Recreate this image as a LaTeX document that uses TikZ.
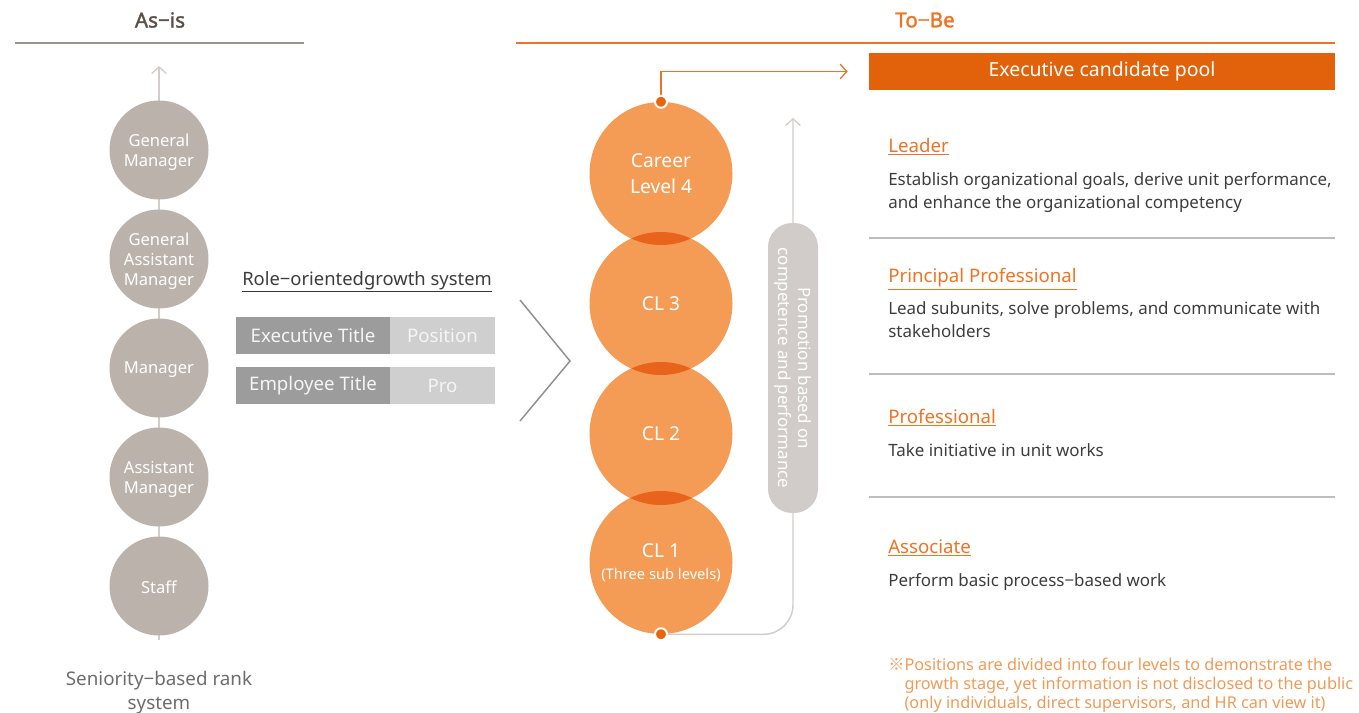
\documentclass[tikz,border=0pt]{standalone}
\usepackage{fontspec}
\setmainfont{Noto Sans}
\newfontfamily\titlefont[FakeBold=1.6]{Noto Sans}
\newfontfamily\cjkfont{Noto Sans CJK JP}
\usetikzlibrary{arrows.meta}
\definecolor{asgray}{HTML}{5B4F47}
\definecolor{asline}{HTML}{9C938D}
\definecolor{tobe}{HTML}{EC7424}
\definecolor{gcircfill}{HTML}{BAB2AB}
\definecolor{vline}{HTML}{D2CDCA}
\definecolor{ocfill}{HTML}{F49C55}
\definecolor{ovl}{HTML}{E8641C}
\definecolor{dotc}{HTML}{E8650E}
\definecolor{poolc}{HTML}{E2620B}
\definecolor{dboxc}{HTML}{9C9C9C}
\definecolor{lboxc}{HTML}{CFCFCF}
\definecolor{pillc}{HTML}{D1CCC9}
\definecolor{sepc}{HTML}{BDBDBD}
\definecolor{bodyc}{HTML}{3D3D3D}
\definecolor{footc}{HTML}{F09A57}
\definecolor{senc}{HTML}{6D6D6D}
\definecolor{chevc}{HTML}{8F8F8F}
\newcommand\fsz[2]{\fontsize{#1}{#2}\selectfont}
\begin{document}
\begin{tikzpicture}[x=0.75pt,y=-0.75pt,
  gcirc/.style={circle, fill=gcircfill, minimum size=74.25pt, inner sep=0pt, text=white, align=center, font=\fsz{12.4pt}{15pt}},
  gtext/.style={inner sep=0pt, text=white, align=center, font=\fsz{12.4pt}{15pt}},
  ocirc/.style={circle, fill=ocfill, minimum size=107.25pt, inner sep=0pt, text=white, align=center, font=\fsz{14.4pt}{19.5pt}},
  dotn/.style={circle, fill=dotc, draw=white, line width=1.5pt, minimum size=9pt, inner sep=0pt},
  dbox/.style={rectangle, fill=dboxc, minimum width=115.5pt, minimum height=27.75pt, inner sep=0pt, text=white!96!black, font=\fsz{14pt}{16pt}},
  lbox/.style={rectangle, fill=lboxc, minimum width=78.75pt, minimum height=27.75pt, inner sep=0pt, text=white!96!black, font=\fsz{14pt}{16pt}},
  pool/.style={rectangle, fill=poolc, minimum width=349.5pt, minimum height=27.75pt, inner sep=0pt, text=white, font=\fsz{14.6pt}{17pt}},
  pill/.style={rectangle, rounded corners=18pt, fill=pillc, minimum width=217.5pt, minimum height=37.5pt, inner sep=0pt, text=white, align=center, font=\fsz{12.7pt}{15.5pt}},
  head/.style={inner sep=0pt, text=tobe, font=\fsz{14pt}{17pt}},
  desc/.style={inner sep=0pt, text=bodyc, align=left, font=\fsz{12.7pt}{17.7pt}},
  foot/.style={inner sep=0pt, text=footc, align=left, font=\fsz{12.2pt}{14.2pt}},
  title/.style={inner sep=0pt, font=\titlefont\fsz{15.5pt}{18pt}},
  sepline/.style={draw=sepc, line width=0.9pt},
  barb/.style={-{Straight Barb[length=5pt,width=11pt,line width=1pt]}}
]
\useasboundingbox (0,0) rectangle (1359,713);

% ---- titles
\node[title, text=asgray] (asis) at (160,20) {As−is};
\draw[draw=asline, line width=2.2pt] (15,43) -- (304,43);
\node[title, text=tobe] (tobe) at (925,20) {To−Be};
\draw[draw=tobe, line width=1.6pt] (516,43) -- (1335,43);

% ---- As-is column
\coordinate (ltop) at (159,66);
\coordinate (lbot) at (159,640);
\draw[draw=vline, line width=1.1pt, barb] (lbot) -- (ltop);
\node[gcirc] (gm)  at (159,150) {};
\node[gcirc] (gam) at (159,259) {};
\node[gcirc] (mgr) at (159,368) {};
\node[gcirc] (am)  at (159,477) {};
\node[gcirc] (stf) at (159,586) {};
\node[gtext] (gmt)  at ([yshift=-1.5pt]gm.center)  {General\\Manager};
\node[gtext] (gamt) at ([yshift=-1.5pt]gam.center) {General\\Assistant\\Manager};
\node[gtext] (mgrt) at ([yshift=-1.5pt]mgr.center) {Manager};
\node[gtext] (amt)  at ([yshift=-1.5pt]am.center)  {Assistant\\Manager};
\node[gtext] (stft) at ([yshift=-1pt]stf.center)  {Staff};
\node[inner sep=0pt, text=senc, align=center, font=\fsz{14.1pt}{18pt}] (sen) at (159,693) {Seniority−based rank\\system};

% ---- middle
\node[inner sep=0pt, anchor=base west, text=bodyc, font=\fsz{13.8pt}{16pt}] (role) at (242,285) {Role−orientedgrowth system};
\draw[draw=bodyc!90!black, line width=0.8pt] ([yshift=-1.5pt]role.south west) -- ([yshift=-1.5pt]role.south east);
\node[dbox] (et) at (313,335.5) {Executive Title};
\node[lbox] (pos) at (442.5,335.5) {Position};
\node[dbox] (emp) at (313,385.5) {Employee Title};
\node[lbox] (pro) at (442.5,385.5) {Pro};
\coordinate (ch1) at (520,300);
\coordinate (ch2) at (570,361);
\coordinate (ch3) at (520,421);
\draw[draw=chevc, line width=1.1pt] (ch1) -- (ch2) -- (ch3);

% ---- career level circles
\node[ocirc] (cl4) at (661,173.5) {Career\\Level 4};
\node[ocirc] (cl3) at (661,303.5) {CL 3};
\node[ocirc] (cl2) at (661,433.5) {CL 2};
\node[ocirc] (cl1) at (661,562.5) {CL 1\\[-3pt]{\fsz{11pt}{13pt}(Three sub levels)}};
\begin{scope}
  \clip (cl4.center) circle[radius=53.625pt];
  \fill[ovl] (cl3.center) circle[radius=53.625pt];
\end{scope}
\begin{scope}
  \clip (cl3.center) circle[radius=53.625pt];
  \fill[ovl] (cl2.center) circle[radius=53.625pt];
\end{scope}
\begin{scope}
  \clip (cl2.center) circle[radius=53.625pt];
  \fill[ovl] (cl1.center) circle[radius=53.625pt];
\end{scope}

% ---- promotion path
\coordinate (ptop) at (793,118);
\draw[draw=vline, line width=1.1pt, rounded corners=22pt, barb] (cl1.south) -| (ptop);
\node[pill, rotate=-90] (prom) at (793,368) {Promotion based on\\competence and performance};
\node[dotn] (d1) at (cl1.south) {};

% ---- executive pool
\node[pool] (ecp) at (1102,71.5) {Executive candidate pool};
\draw[draw=tobe, line width=1.1pt, barb] (cl4.north) |- ([xshift=-15.75pt]ecp.west);
\node[dotn] (d4) at (cl4.north) {};

% ---- right column
\node[head, anchor=base west] (h1) at (888,152.5) {Leader};
\draw[draw=tobe, line width=0.8pt] ([yshift=-1.5pt]h1.south west) -- ([yshift=-1.5pt]h1.south east);
\node[desc, anchor=north west] (t1) at (888,172) {Establish organizational goals, derive unit performance,\\and enhance the organizational competency};
\draw[sepline] (869,238) -- (1335,238);

\node[head, anchor=base west] (h2) at (888,282.5) {Principal Professional};
\draw[draw=tobe, line width=0.8pt] ([yshift=-1.5pt]h2.south west) -- ([yshift=-1.5pt]h2.south east);
\node[desc, anchor=north west] (t2) at (888,301) {Lead subunits, solve problems, and communicate with\\stakeholders};
\draw[sepline] (869,374) -- (1335,374);

\node[head, anchor=base west] (h3) at (888,423.5) {Professional};
\draw[draw=tobe, line width=0.8pt] ([yshift=-1.5pt]h3.south west) -- ([yshift=-1.5pt]h3.south east);
\node[desc, anchor=north west] (t3) at (888,443) {Take initiative in unit works};
\draw[sepline] (869,497) -- (1335,497);

\node[head, anchor=base west] (h4) at (888,553.5) {Associate};
\draw[draw=tobe, line width=0.8pt] ([yshift=-1.5pt]h4.south west) -- ([yshift=-1.5pt]h4.south east);
\node[desc, anchor=north west] (t4) at (888,573) {Perform basic process−based work};

\node[foot, anchor=north west] (fn) at (888,658) {{\cjkfont ※}Positions are divided into four levels to demonstrate the\\\phantom{\cjkfont ※}growth stage, yet information is not disclosed to the public\\\phantom{\cjkfont ※}(only individuals, direct supervisors, and HR can view it)};
\end{tikzpicture}
\end{document}
